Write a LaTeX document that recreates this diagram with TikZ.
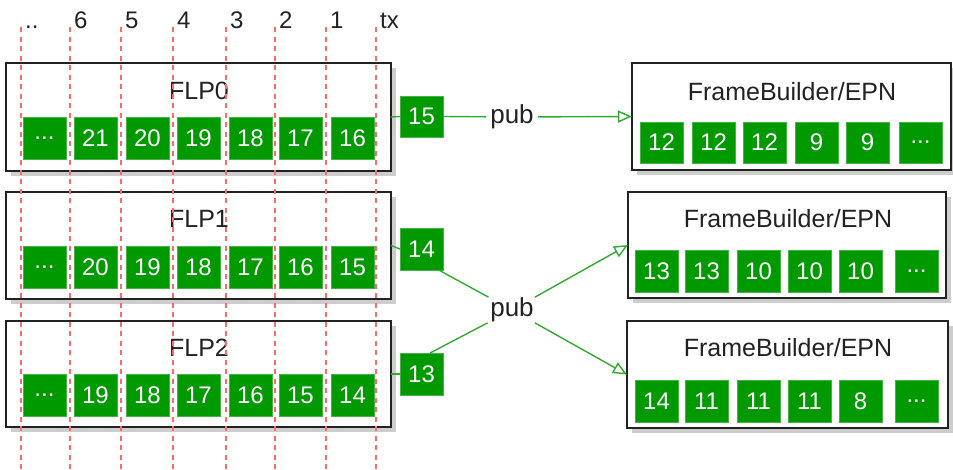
\documentclass[tikz,border=0pt]{standalone}
\usepackage{fontspec}
\setmainfont{Liberation Sans}
\usetikzlibrary{arrows.meta,calc,backgrounds}
\definecolor{cellgreen}{RGB}{0,153,0}
\definecolor{cellrim}{RGB}{70,178,70}
\definecolor{linkgreen}{RGB}{50,170,50}
\definecolor{slotred}{RGB}{255,105,105}
\definecolor{boxshade}{RGB}{205,205,205}
\definecolor{ink}{RGB}{34,34,34}
\begin{document}
\begin{tikzpicture}[x=1pt,y=-1pt,
  every node/.style={font=\fontsize{24}{28}\selectfont, text=ink},
  hostbox/.style={draw=ink, line width=1.6pt, fill=white, anchor=north west,
    inner sep=0pt, outer sep=0pt},
  shade/.style={fill=boxshade},
  cell/.style={draw=cellrim, line width=0.8pt, fill=cellgreen, text=white,
    anchor=north west, minimum width=43pt, minimum height=42pt,
    inner sep=0pt, outer sep=0pt},
  boxtitle/.style={font=\fontsize{25}{30}\selectfont, inner sep=0pt},
  slot/.style={draw=slotred, line width=1.3pt, dash pattern=on 5pt off 4.5pt},
  slotlabel/.style={anchor=base west, inner sep=0pt},
  link/.style={draw=linkgreen, line width=1.4pt},
  tip/.style={-{Triangle[open,length=14pt,width=12pt,fill=white]}},
  publabel/.style={fill=white, inner xsep=4pt, inner ysep=0.5pt,
    font=\fontsize{26}{30}\selectfont}
]
\useasboundingbox (0,0) rectangle (953,469);

% ---- FLP hosts with their time-frame buffers ----
\node[hostbox, minimum width=385pt, minimum height=108pt] (flp0) at (6,63) {};
\node[hostbox, minimum width=385pt, minimum height=107pt] (flp1) at (6,192) {};
\node[hostbox, minimum width=385pt, minimum height=106pt] (flp2) at (6,321) {};
\node[boxtitle] (flp0t) at (199,91) {FLP0};
\node[boxtitle] (flp1t) at (199,219) {FLP1};
\node[boxtitle] (flp2t) at (199,348) {FLP2};

\foreach \x/\t [count=\i] in {23/{...},74/21,126/20,177/19,229/18,279/17,331/16}
  \node[cell] (fa\i) at (\x,117) {\t};
\foreach \x/\t [count=\i] in {23/{...},74/20,126/19,177/18,229/17,279/16,331/15}
  \node[cell] (fb\i) at (\x,246) {\t};
\foreach \x/\t [count=\i] in {23/{...},74/19,126/18,177/17,229/16,279/15,331/14}
  \node[cell] (fc\i) at (\x,374) {\t};

% ---- FrameBuilder/EPN hosts ----
\node[hostbox, minimum width=319pt, minimum height=107pt] (epn0) at (632,63) {};
\node[hostbox, minimum width=318pt, minimum height=106pt] (epn1) at (628,192) {};
\node[hostbox, minimum width=321pt, minimum height=107pt] (epn2) at (627,321) {};
\node[boxtitle] (epn0t) at (792,92) {FrameBuilder/EPN};
\node[boxtitle] (epn1t) at (788,219) {FrameBuilder/EPN};
\node[boxtitle] (epn2t) at (788,348) {FrameBuilder/EPN};

\foreach \x/\t [count=\i] in {640/12,692/12,743/12,795/9,846/9,899/{...}}
  \node[cell, minimum height=41pt] (ea\i) at (\x,122) {\t};
\foreach \x/\t [count=\i] in {635/13,685/13,737/10,788/10,839/10,895/{...}}
  \node[cell] (eb\i) at (\x,250) {\t};
\foreach \x/\t [count=\i] in {635/14,685/11,737/11,788/11,839/8,895/{...}}
  \node[cell] (ec\i) at (\x,380) {\t};

% ---- soft drop shadows behind the host boxes ----
\begin{pgfonlayer}{background}
  \foreach \h in {flp0,flp1,flp2,epn0,epn1,epn2}
    \fill[shade] ($(\h.north west)+(5,5)$) rectangle ($(\h.south east)+(5,5)$);
\end{pgfonlayer}

% ---- time slots: dashed guides with their labels ----
\foreach \x/\t [count=\i] in {21/{..},70/6,121/5,173/4,226/3,275/2,326/1,376/tx}{
  \coordinate (gtop\i) at (\x,27);
  \coordinate (gbot\i) at (\x,469);
  \draw[slot] (gtop\i) -- (gbot\i);
  \node[slotlabel] (glab\i) at (\x+4,28) {\t};
}

% ---- frames in transit ----
\node[cell, minimum height=41pt] (b15) at (400,96) {15};
\node[cell] (b14) at (400,228) {14};
\node[cell] (b13) at (400,353) {13};

\draw[link] (flp0.east) -- (b15.west);
\draw[link] (flp1.east) -- (b14.west);
\draw[link] (flp2.east) -- (b13.west);

\node[publabel] (pub1) at (512,117) {pub};
\node[publabel] (pub2) at (512,310) {pub};

\draw[link] (b15.east) -- (pub1);
\draw[link, tip] (pub1) -- (epn0.west);
\draw[link] ($(b14.south west)!0.9!(b14.south east)$) -- (pub2);
\draw[link] ($(b13.north west)!0.7!(b13.north east)$) -- (pub2);
\draw[link, tip] (pub2) -- (epn1.west);
\draw[link, tip] (pub2) -- (epn2.west);
\end{tikzpicture}
\end{document}
